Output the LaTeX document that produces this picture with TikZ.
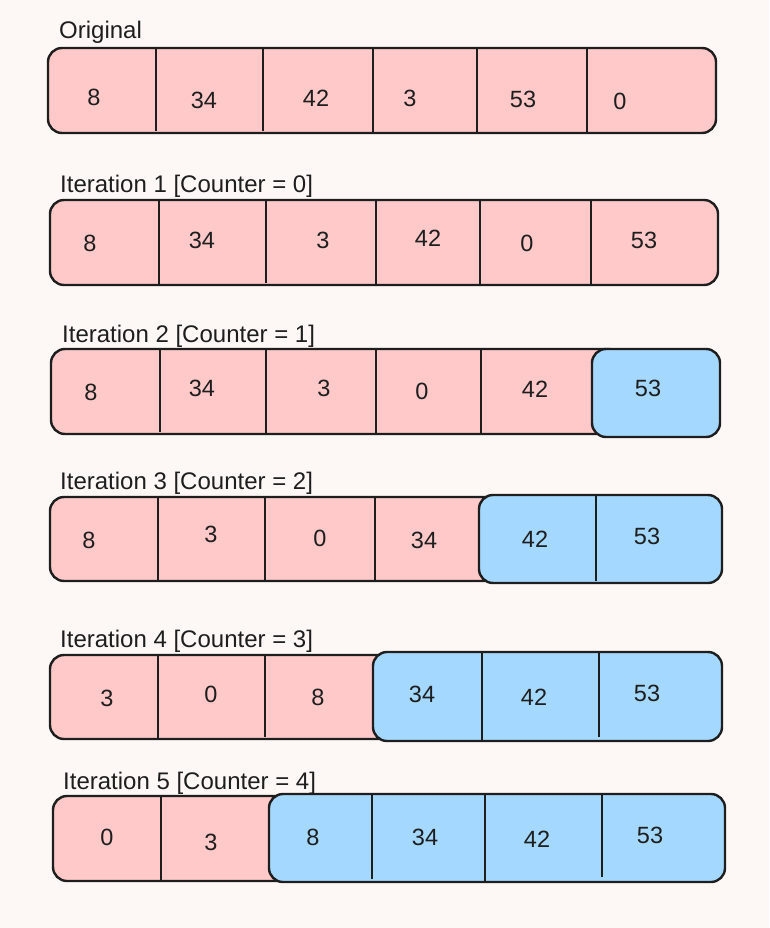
\documentclass[tikz,border=0pt]{standalone}
\usepackage{fontspec}
\setmainfont{Liberation Sans}
\usetikzlibrary{positioning}

\definecolor{paper}{HTML}{FDF8F5}
\definecolor{unsorted}{HTML}{FFC9C9}
\definecolor{sorted}{HTML}{A5D8FF}
\definecolor{ink}{HTML}{1E1E1E}

\begin{document}
\begin{tikzpicture}[x=1pt, y=-1pt,
  pinkbox/.style={draw=ink, fill=unsorted, line width=2.4pt, rounded corners=14pt},
  bluebox/.style={draw=ink, fill=sorted, line width=2.4pt, rounded corners=14pt},
  divider/.style={draw=ink, line width=2pt},
  num/.style={text=ink, font=\fontsize{23.5}{28}\selectfont, inner sep=0pt},
  title/.style={text=ink, font=\fontsize{24}{28}\selectfont, anchor=west, inner sep=0pt}
]
  \fill[paper] (0,0) rectangle (769,928);

  % Original
  \node[title] (t0) at (59,32) {Original};
  \draw[pinkbox] (48,48) rectangle (716,133);
  \draw[divider] (156,48) -- (156,131) (263,48) -- (263,131) (373,48) -- (373,133)
    (477,48) -- (477,133) (587,48) -- (587,133);
  \node[num] (a1) at (94,97) {8};
  \node[num] (a2) at (204,100) {34};
  \node[num] (a3) at (316,98) {42};
  \node[num] (a4) at (410,98) {3};
  \node[num] (a5) at (523,99) {53};
  \node[num] (a6) at (620,101) {0};

  % Iteration 1
  \node[title] (t1) at (60,186) {Iteration 1 [Counter = 0]};
  \draw[pinkbox] (50,200) rectangle (718,285);
  \draw[divider] (159,200) -- (159,285) (266,200) -- (266,283) (376,200) -- (376,285)
    (480,200) -- (480,285) (591,200) -- (591,285);
  \node[num] (b1) at (90,243) {8};
  \node[num] (b2) at (202,240) {34};
  \node[num] (b3) at (323,240) {3};
  \node[num] (b4) at (428,238) {42};
  \node[num] (b5) at (527,243) {0};
  \node[num] (b6) at (644,240) {53};

  % Iteration 2
  \node[title] (t2) at (62,336) {Iteration 2 [Counter = 1]};
  \draw[pinkbox] (51,349) rectangle (622,434);
  \draw[bluebox] (592,349) rectangle (720,437);
  \draw[divider] (160,349) -- (160,432) (266,349) -- (266,434) (376,349) -- (376,434)
    (481,349) -- (481,434);
  \node[num] (c1) at (91,392) {8};
  \node[num] (c2) at (202,388) {34};
  \node[num] (c3) at (324,388) {3};
  \node[num] (c4) at (422,391) {0};
  \node[num] (c5) at (535,389) {42};
  \node[num] (c6) at (648,388) {53};

  % Iteration 3
  \node[title] (t3) at (60,483) {Iteration 3 [Counter = 2]};
  \draw[pinkbox] (50,497) rectangle (509,581);
  \draw[bluebox] (479,495) rectangle (722,583);
  \draw[divider] (158,497) -- (158,581) (265,497) -- (265,581) (375,497) -- (375,581)
    (596,495) -- (596,581);
  \node[num] (d1) at (89,540) {8};
  \node[num] (d2) at (211,534) {3};
  \node[num] (d3) at (320,538) {0};
  \node[num] (d4) at (424,540) {34};
  \node[num] (d5) at (535,539) {42};
  \node[num] (d6) at (647,536) {53};

  % Iteration 4
  \node[title] (t4) at (60,641) {Iteration 4 [Counter = 3]};
  \draw[pinkbox] (50,655) rectangle (403,739);
  \draw[bluebox] (373,652) rectangle (722,741);
  \draw[divider] (158,655) -- (158,739) (265,655) -- (265,737) (482,652) -- (482,741)
    (599,652) -- (599,737);
  \node[num] (e1) at (107,698) {3};
  \node[num] (e2) at (211,694) {0};
  \node[num] (e3) at (318,697) {8};
  \node[num] (e4) at (422,694) {34};
  \node[num] (e5) at (534,697) {42};
  \node[num] (e6) at (647,693) {53};

  % Iteration 5
  \node[title] (t5) at (63,783) {Iteration 5 [Counter = 4]};
  \draw[pinkbox] (53,796) rectangle (299,881);
  \draw[bluebox] (269,794) rectangle (725,882);
  \draw[divider] (161,796) -- (161,881) (372,794) -- (372,879) (485,794) -- (485,882)
    (602,794) -- (602,877);
  \node[num] (f1) at (107,837) {0};
  \node[num] (f2) at (211,842) {3};
  \node[num] (f3) at (313,837) {8};
  \node[num] (f4) at (425,837) {34};
  \node[num] (f5) at (537,839) {42};
  \node[num] (f6) at (650,835) {53};
\end{tikzpicture}
\end{document}
